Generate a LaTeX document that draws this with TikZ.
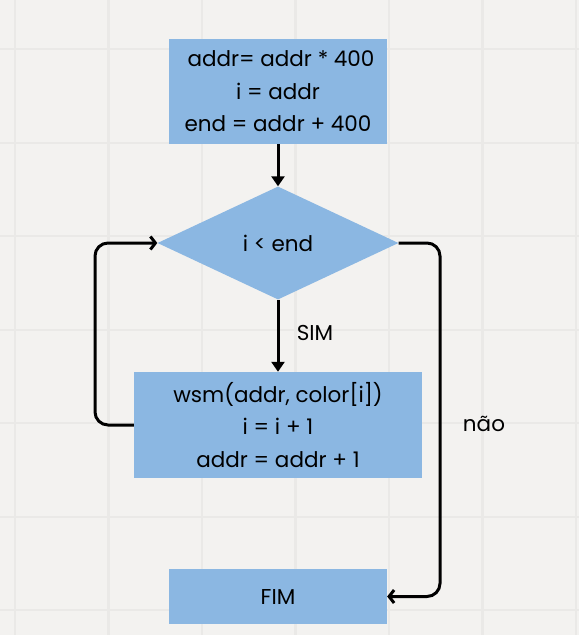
\documentclass[tikz,border=0pt]{standalone}
\usepackage{fontspec}
\setmainfont{Poppins}
\usetikzlibrary{shapes.geometric,arrows.meta}
\definecolor{bgc}{RGB}{243,242,240}
\definecolor{gridc}{RGB}{234,233,231}
\definecolor{boxc}{RGB}{139,183,226}
\tikzset{
  proc/.style={rectangle, fill=boxc, inner sep=0pt, align=center,
    font=\fontsize{21.5}{32.5}\selectfont},
  decis/.style={diamond, fill=boxc, inner sep=0pt, align=center,
    font=\fontsize{21.5}{32.5}\selectfont},
  lbl/.style={font=\fontsize{21.5}{24}\selectfont, inner sep=0pt},
  conn/.style={line width=3pt, black},
  filltip/.style={-{Triangle[length=10pt,width=13pt]}},
  opentip/.style={-{Straight Barb[length=5pt,width=13pt]}},
}
\begin{document}
\begin{tikzpicture}[x=1pt,y=-1pt]
\fill[bgc] (0,0) rectangle (579,635);
\useasboundingbox (0,0) rectangle (579,635);
\foreach \gx in {15,108.5,202,295.5,389,482.5,576}
  \draw[gridc, line width=2.5pt] (\gx,0) -- (\gx,635);
\foreach \gy in {49,143,236,330,423,517,610}
  \draw[gridc, line width=2.5pt] (0,\gy) -- (579,\gy);

\node[proc, minimum width=218pt, minimum height=105pt] (b1) at (278,91.5)
  {\hspace*{6pt}addr= addr * 400\\ i = addr\\ end = addr + 400};
\node[decis, minimum width=241pt, minimum height=113pt] (d) at (278,243) {i < end};
\node[proc, minimum width=288pt, minimum height=106pt] (b2) at (278,425)
  {wsm(addr, color[i])\\ i = i + 1\\ addr = addr + 1};
\node[proc, minimum width=218pt, minimum height=55pt] (fim) at (278,596.5) {FIM};

\node[lbl] (sim) at (315,333) {SIM};
\node[lbl] (nao) at (484,424) {não};

\coordinate (lc) at (95,425);
\coordinate (rc) at (440,243);

\draw[conn, filltip] (b1) -- (d);
\draw[conn, filltip] (d) -- (b2);
\draw[conn, opentip, rounded corners=13pt] (b2.west) -- (lc) |- (d.west);
\draw[conn, opentip, rounded corners=13pt] (d.east) -- (rc) |- (fim.east);
\end{tikzpicture}
\end{document}
